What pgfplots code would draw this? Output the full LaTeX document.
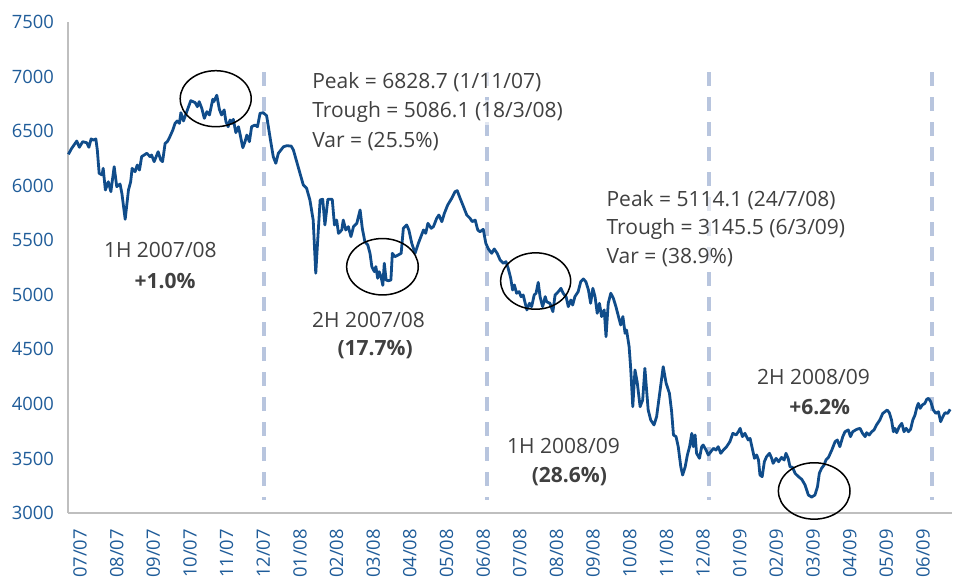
\documentclass[border=0pt]{standalone}
\usepackage{fontspec}
\setmainfont{Open Sans}
\usepackage{pgfplots}
\pgfplotsset{compat=1.18}
\begin{document}
\begin{tikzpicture}
\definecolor{ftse}{RGB}{16,76,138}
\definecolor{ticktext}{RGB}{31,92,153}
\definecolor{note}{RGB}{64,64,64}
\definecolor{halfyear}{RGB}{184,197,222}
\definecolor{axisgray}{RGB}{191,191,191}
\path[use as bounding box] (-34pt,-32.5pt) rectangle (444.5pt,256.5pt);
\begin{axis}[
  at={(0pt,0pt)}, anchor=south west,
  scale only axis, width=442pt, height=245.5pt,
  xmin=-0.11, xmax=24.01, ymin=3000, ymax=7500,
  axis x line*=bottom, axis y line*=left,
  axis line style={axisgray, line width=0.6pt},
  major tick length=0pt,
  xtick={0,...,23},
  xticklabels={07/07,08/07,09/07,10/07,11/07,12/07,01/08,02/08,03/08,04/08,05/08,06/08,07/08,08/08,09/08,10/08,11/08,12/08,01/09,02/09,03/09,04/09,05/09,06/09},
  ytick={3000,3500,...,7500},
  tick label style={font=\fontsize{9.2}{10}\selectfont, text=ticktext},
  xticklabel style={rotate=90, anchor=east, yshift=-4pt, xshift=-4.5pt},
  yticklabel style={xshift=-3.5pt},
  /pgf/number format/assume math mode=true,
  /pgf/number format/1000 sep={},
  clip=false,
]
% half-year boundaries
\addplot[halfyear, line width=2pt, dash pattern=on 7pt off 5.5pt] coordinates {(5.24,7040) (5.24,3120)};
\addplot[halfyear, line width=2pt, dash pattern=on 7pt off 5.5pt] coordinates {(11.32,7040) (11.32,3120)};
\addplot[halfyear, line width=2pt, dash pattern=on 7pt off 5.5pt] coordinates {(17.38,7040) (17.38,3120)};
\addplot[halfyear, line width=2pt, dash pattern=on 7pt off 5.5pt] coordinates {(23.46,7040) (23.46,3120)};

% index level
\addplot[ftse, line width=1.4pt, line join=round] table {
-0.10 6287
-0.01 6342
0.13 6409
0.20 6352
0.29 6403
0.40 6394
0.46 6352
0.52 6428
0.58 6418
0.65 6428
0.69 6327
0.74 6113
0.82 6098
0.85 6159
0.91 5960
0.99 6036
1.06 5945
1.15 6174
1.22 5991
1.31 6015
1.36 5930
1.45 5692
1.54 5960
1.60 6036
1.64 6159
1.72 6128
1.78 6189
1.84 6143
1.90 6266
2.04 6297
2.13 6266
2.17 6281
2.24 6220
2.35 6311
2.42 6235
2.47 6220
2.54 6388
2.60 6403
2.67 6449
2.75 6510
2.81 6571
2.87 6593
2.93 6571
2.97 6669
3.04 6593
3.13 6678
3.24 6779
3.36 6761
3.42 6724
3.47 6770
3.54 6709
3.61 6617
3.68 6678
3.75 6648
3.84 6792
3.87 6770
3.95 6829
4.02 6700
4.08 6648
4.15 6694
4.20 6586
4.26 6540
4.31 6602
4.36 6571
4.40 6608
4.47 6486
4.54 6540
4.58 6480
4.66 6348
4.72 6403
4.77 6464
4.84 6403
4.90 6540
4.99 6556
5.06 6540
5.13 6663
5.22 6669
5.31 6640
5.40 6449
5.49 6266
5.56 6205
5.63 6297
5.77 6357
5.86 6366
5.98 6363
6.04 6327
6.13 6220
6.22 6113
6.31 6006
6.40 5976
6.49 5869
6.58 5685
6.65 5197
6.72 5594
6.77 5869
6.84 5875
6.90 5640
6.98 5875
7.10 5875
7.16 5640
7.22 5685
7.27 5563
7.36 5594
7.40 5685
7.47 5594
7.54 5624
7.61 5533
7.68 5624
7.77 5655
7.86 5777
7.92 5609
7.99 5487
8.07 5456
8.13 5380
8.18 5258
8.25 5212
8.29 5258
8.34 5151
8.38 5212
8.43 5166
8.48 5086
8.52 5289
8.57 5135
8.63 5129
8.70 5135
8.74 5380
8.81 5349
8.90 5365
8.98 5380
9.04 5609
9.13 5640
9.19 5594
9.27 5472
9.36 5380
9.45 5472
9.52 5533
9.59 5594
9.65 5563
9.71 5655
9.80 5609
9.86 5624
9.95 5701
10.01 5731
10.09 5670
10.16 5747
10.25 5823
10.36 5884
10.45 5945
10.51 5954
10.59 5884
10.68 5808
10.77 5731
10.86 5701
10.92 5670
11.00 5685
11.07 5594
11.13 5578
11.22 5600
11.29 5472
11.36 5420
11.45 5380
11.52 5420
11.60 5380
11.68 5319
11.77 5289
11.84 5303
11.90 5243
11.97 5151
12.02 5044
12.07 5090
12.13 5014
12.20 5029
12.25 4983
12.31 4998
12.41 4861
12.48 4922
12.54 4891
12.61 4998
12.66 5014
12.72 5114
12.77 4983
12.84 4891
12.91 4983
12.95 4937
13.04 4922
13.12 4845
13.18 4998
13.27 5029
13.34 5059
13.40 5014
13.48 4983
13.54 4891
13.61 4952
13.66 4906
13.72 4983
13.81 5029
13.88 5120
13.95 5145
14.02 5120
14.09 5044
14.15 4922
14.21 5059
14.27 4983
14.33 4830
14.39 4922
14.45 4800
14.52 4861
14.57 4616
14.63 4922
14.70 5014
14.77 4968
14.84 4891
14.91 4800
14.97 4723
15.03 4800
15.09 4647
15.13 4677
15.20 4524
15.24 4341
15.30 3974
15.36 4311
15.42 4200
15.50 3974
15.57 4036
15.63 4326
15.72 3944
15.79 3852
15.88 3807
15.95 3883
16.04 4112
16.13 4341
16.21 4189
16.30 4097
16.36 3928
16.41 3715
16.48 3700
16.54 3608
16.61 3424
16.66 3348
16.73 3424
16.79 3532
16.85 3608
16.91 3730
16.95 3608
17.00 3715
17.04 3547
17.12 3501
17.18 3608
17.22 3623
17.30 3577
17.36 3532
17.43 3562
17.50 3593
17.57 3577
17.63 3608
17.70 3547
17.77 3577
17.86 3608
17.95 3654
18.03 3730
18.12 3715
18.18 3745
18.23 3776
18.29 3700
18.36 3730
18.45 3669
18.50 3684
18.57 3577
18.62 3501
18.68 3532
18.73 3486
18.77 3348
18.83 3333
18.89 3470
18.95 3516
19.03 3547
19.09 3501
19.13 3455
19.21 3501
19.28 3470
19.36 3510
19.43 3486
19.48 3547
19.54 3501
19.59 3424
19.66 3418
19.73 3363
19.82 3333
19.91 3309
20.00 3257
20.09 3165
20.18 3146
20.27 3165
20.34 3241
20.39 3364
20.45 3409
20.52 3440
20.57 3486
20.64 3510
20.73 3577
20.82 3654
20.88 3669
20.95 3608
21.03 3700
21.09 3745
21.18 3761
21.24 3700
21.30 3745
21.41 3767
21.50 3776
21.57 3730
21.64 3700
21.68 3736
21.75 3715
21.82 3745
21.88 3761
21.95 3807
22.04 3852
22.12 3913
22.18 3928
22.24 3944
22.30 3919
22.36 3852
22.41 3745
22.45 3776
22.50 3736
22.57 3791
22.64 3822
22.70 3745
22.76 3776
22.82 3745
22.88 3767
22.94 3852
23.00 3898
23.05 3968
23.09 4005
23.14 3959
23.20 3990
23.27 4005
23.32 4042
23.37 4051
23.43 4020
23.50 3944
23.57 3913
23.64 3928
23.70 3837
23.76 3883
23.82 3919
23.89 3913
23.96 3950
};

% highlighted peaks and troughs
\draw[black, line width=0.75pt] (axis cs:3.92,6797) ellipse [x radius=17.75pt, y radius=14pt];
\draw[black, line width=0.75pt] (axis cs:8.47,5257) ellipse [x radius=17.9pt, y radius=14.1pt];
\draw[black, line width=0.75pt] (axis cs:12.65,5126) ellipse [x radius=17.5pt, y radius=14.1pt];
\draw[black, line width=0.75pt] (axis cs:20.25,3202) ellipse [x radius=17.9pt, y radius=14.1pt];

% half-year labels
\tikzset{lbl/.style={note, font=\fontsize{10.5}{12}\selectfont, inner sep=1pt}}
\node[lbl] at (axis cs:2.41,5410) {1H 2007/08};
\node[lbl, font=\fontsize{10.5}{12}\selectfont\bfseries] at (axis cs:2.54,5126) {+1.0\%};
\node[lbl] at (axis cs:8.09,4769) {2H 2007/08};
\node[lbl, font=\fontsize{10.5}{12}\selectfont\bfseries] at (axis cs:8.27,4494) {(17.7\%)};
\node[lbl] at (axis cs:13.41,3617) {1H 2008/09};
\node[lbl, font=\fontsize{10.5}{12}\selectfont\bfseries] at (axis cs:13.57,3333) {(28.6\%)};
\node[lbl] at (axis cs:20.23,4249) {2H 2008/09};
\node[lbl, font=\fontsize{10.5}{12}\selectfont\bfseries] at (axis cs:20.40,3971) {+6.2\%};

% peak / trough notes
\tikzset{pk/.style={lbl, anchor=west, fill=white, fill opacity=0.6, text opacity=1}}
\node[pk] at (axis cs:6.49,6950) {Peak = 6828.7 (1/11/07)};
\node[pk] at (axis cs:6.49,6675) {Trough = 5086.1 (18/3/08)};
\node[pk] at (axis cs:6.49,6400) {Var = (25.5\%)};
\node[pk] at (axis cs:14.52,5869) {Peak = 5114.1 (24/7/08)};
\node[pk] at (axis cs:14.52,5603) {Trough = 3145.5 (6/3/09)};
\node[pk] at (axis cs:14.52,5337) {Var = (38.9\%)};
\end{axis}
\end{tikzpicture}
\end{document}
